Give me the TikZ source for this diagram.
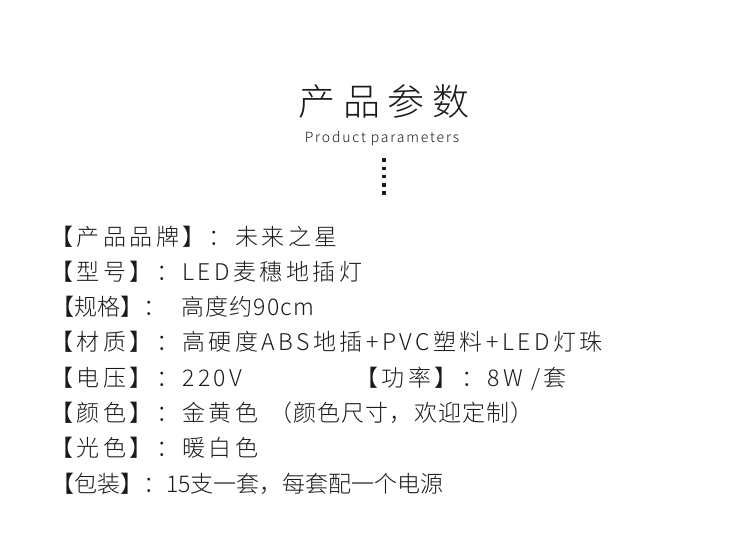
\documentclass[tikz,border=0pt]{standalone}
\usepackage{fontspec}
\setmainfont{Noto Sans CJK SC}[UprightFont=* Light]
\newfontfamily\titlefont{Noto Sans CJK SC}[UprightFont=* Light,LetterSpace=21]
\newfontfamily\subfont{Noto Sans CJK SC}[UprightFont=* Light,LetterSpace=13]
\newfontfamily\bodyfont{Noto Sans CJK SC}[UprightFont=* Light,LetterSpace=15]
\newfontfamily\narrowfont{Noto Sans CJK SC}[UprightFont=* Light,LetterSpace=5]
\newfontfamily\plainfont{Noto Sans CJK SC}[UprightFont=* Light]
\definecolor{ink}{HTML}{1A1A1A}

\begin{document}
\begin{tikzpicture}[x=1pt,y=-1pt]

      \useasboundingbox (0,0) rectangle (750,550);

      % heading
      \node[text=ink,inner sep=0,anchor=base] (title) at (384,115.5)
        {\titlefont\fontsize{37}{40}\selectfont 产品参数};
      \node[text=ink,inner sep=0,anchor=base] (sub) at (382,142)
        {\subfont\fontsize{14}{16}\selectfont Product parameters};

      \begin{scope}[every node/.style={fill=ink,minimum size=3.6pt,inner sep=0}]
        \node (d1) at (384,160) {};
        \node (d2) at (384,168.3) {};
        \node (d3) at (384,176.6) {};
        \node (d4) at (384,184.9) {};
        \node (d5) at (384,193.2) {};
      \end{scope}

      \begin{scope}[every node/.style={text=ink,inner sep=0,anchor=base west,
          font=\bodyfont\fontsize{23}{26}\selectfont},
          plain/.style={font=\plainfont\fontsize{23}{26}\selectfont},
          narrow/.style={font=\narrowfont\fontsize{23}{26}\selectfont}]
        \node (1)  at (50,245.6)  {【产品品牌】：未来之星};
        \node (2)  at (50,280.6)  {【型号】：LED麦穗地插灯};
        \node[plain] (3) at (51,315.6) {【规格】：};
        \node[narrow] (3v) at (181,315.6) {高度约90cm};
        \node (4)  at (50,350.6)  {【材质】：高硬度ABS地插+PVC塑料+LED灯珠};
        \node (5)  at (50,386.6)  {【电压】：220V};
        \node (5b) at (355,386.6) {【功率】：8W /套};
        \node (6)  at (50,421.6)  {【颜色】：金黄色};
        \node[narrow] (6b) at (269,421.6) {（颜色尺寸，欢迎定制）};
        \node (7)  at (50,456.6)  {【光色】：暖白色};
        \node[plain] (8) at (51,492.6) {【包装】：15支一套，每套配一个电源};
      \end{scope}

    \end{tikzpicture}
\end{document}
